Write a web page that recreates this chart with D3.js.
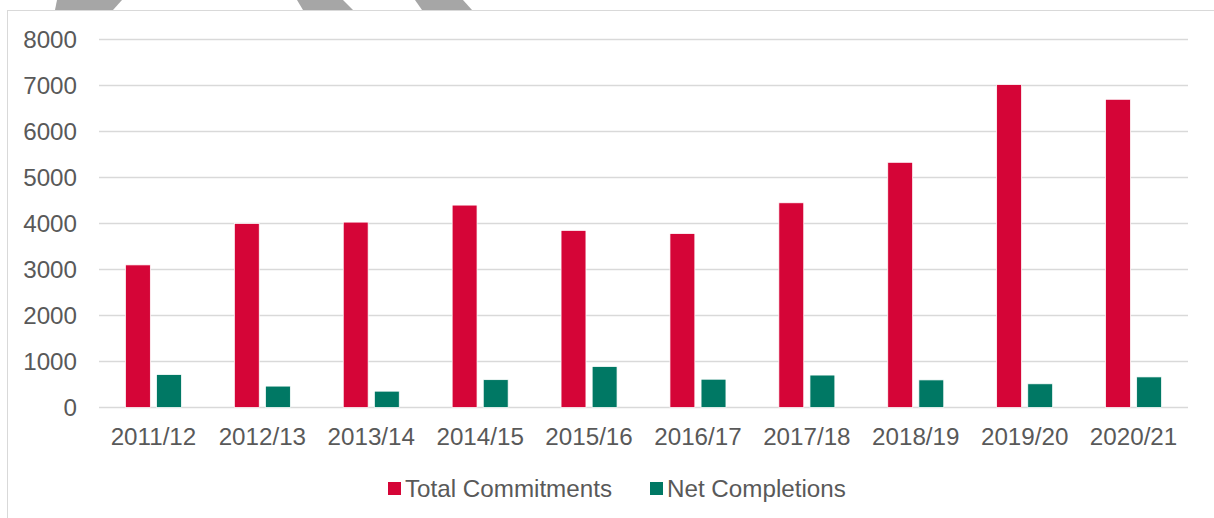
<!DOCTYPE html>
<html>
<head>
<meta charset="utf-8">
<script src="https://cdn.jsdelivr.net/npm/d3@7"></script>
<style>
  body { margin: 0; background: #fff; }
  svg { display: block; font-family: "Liberation Sans", Arial, sans-serif; }
</style>
</head>
<body>
<div id="chart"></div>
<script>
// chart data
const years = ['2011/12', '2012/13', '2013/14', '2014/15', '2015/16', '2016/17', '2017/18', '2018/19', '2019/20', '2020/21']
const totalCommitments = [3100, 4000, 4030, 4400, 3850, 3780, 4450, 5330, 7020, 6700]
const netCompletions = [715, 465, 355, 605, 890, 615, 705, 600, 515, 665]
const seriesNames = ['Total Commitments', 'Net Completions']
const yTicks = [0, 1000, 2000, 3000, 4000, 5000, 6000, 7000, 8000]

const colors = { 'Total Commitments': '#d50537', 'Net Completions': '#007864' }
const width = 1214, height = 518
const margin = { top: 39.5, right: 26, bottom: 110.5, left: 99 }
const fontSize = '24.2px'

const svg = d3.select('#chart').append('svg')
  .attr('width', width)
  .attr('height', height)

// decorative grey tabs at the very top
const tabs = [
  [[57, 0], [122, 0], [113, 10], [55, 10]],
  [[297, 0], [343, 0], [353, 10], [303, 10]],
  [[415, 0], [463, 0], [472, 10], [422, 10]]
]
svg.selectAll('.tab').data(tabs).enter().append('polygon')
  .attr('class', 'tab')
  .attr('points', d => d.map(p => p.join(',')).join(' '))
  .attr('fill', '#a6a6a6')

// chart area border (runs off the right and bottom edges)
svg.append('rect')
  .attr('x', 7.5).attr('y', 10.5)
  .attr('width', width + 10).attr('height', height + 10)
  .attr('fill', 'none')
  .attr('stroke', '#d9d9d9')
  .attr('stroke-width', 1)

const x0 = d3.scaleBand().domain(years).range([margin.left, width - margin.right]).padding(0)
const groupW = 56
const x1 = d3.scaleBand().domain(seriesNames).range([0, groupW]).paddingInner(0.2)
const y = d3.scaleLinear().domain([0, 8000]).range([height - margin.bottom, margin.top])

// gridlines
svg.append('g').selectAll('line').data(yTicks).enter().append('line')
  .attr('x1', margin.left).attr('x2', width - margin.right)
  .attr('y1', d => y(d)).attr('y2', d => y(d))
  .attr('stroke', '#d9d9d9')
  .attr('stroke-width', 1.5)

// y axis labels
const yAxis = svg.append('g')
  .attr('transform', 'translate(' + (margin.left - 22) + ',0)')
  .call(d3.axisLeft(y).tickValues(yTicks).tickSize(0).tickPadding(0).tickFormat(d3.format('d')))
yAxis.select('.domain').remove()
yAxis.selectAll('text').attr('fill', '#595959').style('font-size', fontSize).attr('font-family', null)

// x axis labels
const xAxis = svg.append('g')
  .attr('transform', 'translate(0,' + (height - margin.bottom) + ')')
  .call(d3.axisBottom(x0).tickSize(0).tickPadding(20))
xAxis.select('.domain').remove()
xAxis.selectAll('text').attr('fill', '#595959').style('font-size', fontSize).attr('font-family', null)

// bars
const rows = years.map((yr, i) => ({ year: yr, values: [
  { name: seriesNames[0], value: totalCommitments[i] },
  { name: seriesNames[1], value: netCompletions[i] }
] }))

const groups = svg.append('g').selectAll('g').data(rows).enter().append('g')
  .attr('transform', d => 'translate(' + (x0(d.year) + (x0.bandwidth() - groupW) / 2) + ',0)')

groups.selectAll('rect').data(d => d.values).enter().append('rect')
  .attr('x', d => x1(d.name))
  .attr('width', x1.bandwidth())
  .attr('y', d => y(d.value))
  .attr('height', d => y(0) - y(d.value))
  .attr('fill', d => colors[d.name])
  .attr('stroke', '#fff')
  .attr('stroke-width', 0.75)

// legend
const legendItems = [
  { name: seriesNames[0], x: 388 },
  { name: seriesNames[1], x: 650 }
]
const legend = svg.append('g').selectAll('g').data(legendItems).enter().append('g')
  .attr('transform', d => 'translate(' + d.x + ',482)')
legend.append('rect')
  .attr('width', 13).attr('height', 13)
  .attr('fill', d => colors[d.name])
legend.append('text')
  .attr('x', 17).attr('y', 6.5)
  .attr('dy', '0.35em')
  .attr('fill', '#595959')
  .style('font-size', fontSize)
  .text(d => d.name)
</script>
</body>
</html>
